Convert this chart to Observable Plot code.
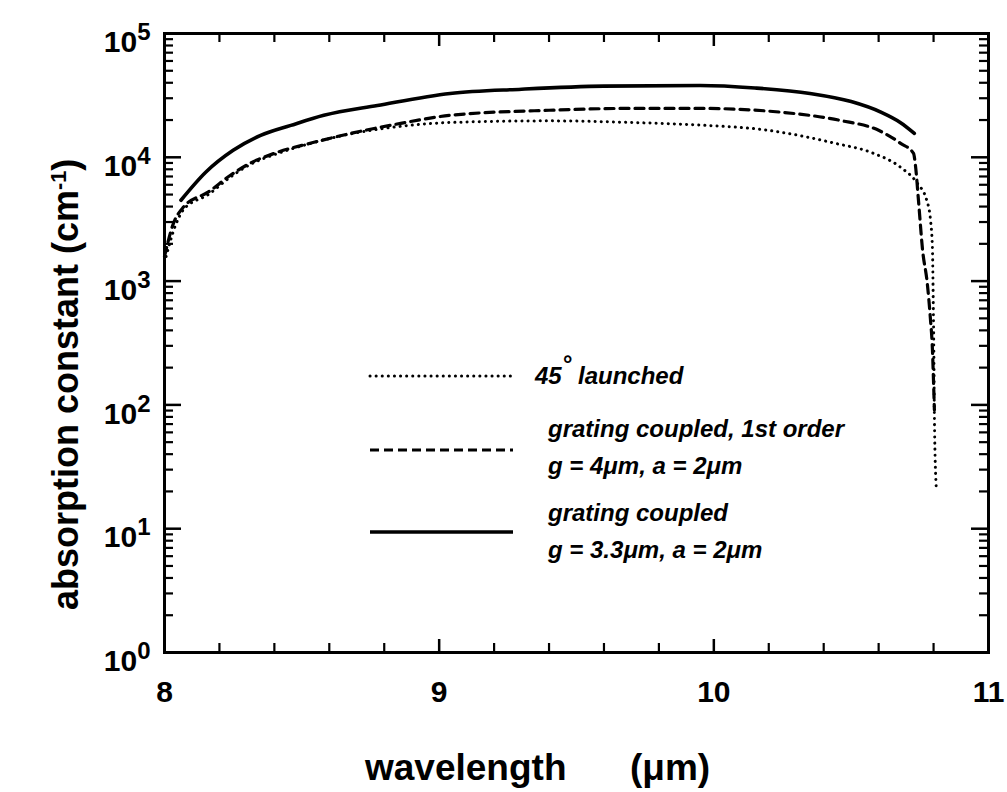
<!DOCTYPE html>
<html><head><meta charset="utf-8">
<script src="https://cdn.jsdelivr.net/npm/d3@7"></script>
<script src="https://cdn.jsdelivr.net/npm/@observablehq/plot@0.6"></script>
<style>body{margin:0;background:#fff} #chart{width:1007px;height:792px}</style>
</head><body><div id="chart"></div>
<script>
// ---- data ----
const seriesNames = ["45° launched", "grating coupled, 1st order", "grating coupled"];

const launchedX = [8.00, 8.04, 8.07, 8.16, 8.24, 8.31, 8.41, 8.53, 8.68, 8.86, 9.04, 9.4, 9.7, 9.95, 10.2, 10.44, 10.58, 10.68, 10.74, 10.775, 10.789, 10.796, 10.799, 10.801, 10.803, 10.81];
const launchedY = [1410, 2820, 3800, 5010, 6920, 8710, 10700, 12900, 15500, 17800, 19100, 19700, 19100, 18200, 16500, 13000, 10800, 8300, 6200, 4500, 3090, 1780, 630, 275, 79, 21];

const order1X = [8.00, 8.03, 8.07, 8.16, 8.24, 8.31, 8.41, 8.53, 8.68, 8.86, 9.04, 9.4, 9.7, 9.95, 10.25, 10.46, 10.6, 10.68, 10.727, 10.734, 10.745, 10.76, 10.777, 10.788, 10.796, 10.80, 10.803];
const order1Y = [1580, 2820, 3980, 5250, 7160, 8910, 10960, 12970, 15630, 18790, 21830, 23990, 24830, 24830, 23070, 19860, 16520, 12970, 10770, 8610, 4500, 1780, 964, 513, 275, 151, 91];

const coupledX = [8.06, 8.15, 8.25, 8.35, 8.46, 8.58, 8.775, 9.04, 9.3, 9.6, 9.95, 10.15, 10.35, 10.5, 10.61, 10.68, 10.73];
const coupledY = [4500, 7570, 11380, 15030, 18110, 21830, 26240, 32810, 35480, 37580, 38020, 36310, 32810, 28180, 23070, 19050, 15630];

const xMajorTicks = [8, 9, 10, 11];
const xMinorTicks = [8.2, 8.4, 8.6, 8.8, 9.2, 9.4, 9.6, 9.8, 10.2, 10.4, 10.6, 10.8];
const yMajorTicks = [1, 10, 100, 1000, 10000, 100000];
const yMinorMultipliers = [2, 3, 4, 5, 6, 7, 8, 9];

const xLabel = "wavelength";
const xUnit = "(μm)";
const yLabel = "absorption constant (cm";

// ---- build tables ----
const toRows = (xs, ys, name) => xs.map((x, i) => ({x, y: ys[i], series: name}));
const launched = toRows(launchedX, launchedY, seriesNames[0]);
const order1 = toRows(order1X, order1Y, seriesNames[1]);
const coupled = toRows(coupledX, coupledY, seriesNames[2]);
const yMinorTicks = yMajorTicks.slice(0, -1).flatMap(d => yMinorMultipliers.map(m => m * d));

const FONT = "'Liberation Sans', Arial, Helvetica, sans-serif";
const W = 1007, H = 792, ML = 164, MR = 19, MT = 33, MB = 140;
const FW = W - ML - MR, FH = H - MT - MB;   // frame size in px

// inward tick helpers (rules inset so that only `len` px remain at one edge)
const yTicksAt = (ticks, side, len, sw) => Plot.ruleY(ticks, {y: d => d, stroke: "black", strokeWidth: sw,
  ...(side === "left" ? {insetRight: FW - len} : {insetLeft: FW - len})});
const xTicksAt = (ticks, side, len, sw) => Plot.ruleX(ticks, {x: d => d, stroke: "black", strokeWidth: sw,
  ...(side === "bottom" ? {insetTop: FH - len} : {insetBottom: FH - len})});

const plot = Plot.plot({
  width: W, height: H,
  marginLeft: ML, marginRight: MR, marginTop: MT, marginBottom: MB,
  x: {domain: [8, 11], axis: null},
  y: {type: "log", domain: [1, 1e5], axis: null},
  style: {fontFamily: FONT, background: "white", color: "black"},
  marks: [
    // inward ticks on all four sides
    xTicksAt(xMajorTicks, "bottom", 13, 2.5),
    xTicksAt(xMinorTicks, "bottom", 9, 2.2),
    xTicksAt(xMajorTicks, "top", 13, 2.5),
    xTicksAt(xMinorTicks, "top", 9, 2.2),
    yTicksAt(yMajorTicks, "left", 17, 2.5),
    yTicksAt(yMinorTicks, "left", 9, 2.2),
    yTicksAt(yMajorTicks, "right", 17, 2.5),
    yTicksAt(yMinorTicks, "right", 9, 2.2),
    // tick labels
    Plot.text(xMajorTicks, {x: d => d, frameAnchor: "bottom", dy: 40, text: d => String(d),
      fontSize: 30, fontWeight: "bold", fill: "black", textAnchor: "middle", lineAnchor: "middle"}),
    Plot.text(yMajorTicks, {y: d => d, frameAnchor: "left", dx: -14, dy: 9, text: d => "10^" + Math.round(Math.log10(d)),
      fontSize: 30, fontWeight: "bold", fill: "black", textAnchor: "end", lineAnchor: "middle"}),
    // curves
    Plot.line(launched, {x: "x", y: "y", stroke: "black", strokeWidth: 3, strokeDasharray: "0.1,6", strokeLinecap: "round", curve: "monotone-x"}),
    Plot.line(order1, {x: "x", y: "y", stroke: "black", strokeWidth: 3.2, strokeDasharray: "9,6", curve: "monotone-x"}),
    Plot.line(coupled, {x: "x", y: "y", stroke: "black", strokeWidth: 3.6, curve: "monotone-x"}),
    Plot.frame({stroke: "black", strokeWidth: 3})
  ]
});

document.getElementById("chart").appendChild(plot);
const svg = d3.select(plot);

// superscript exponents on y tick labels ("10^k" -> 10 with raised k)
svg.selectAll("text").each(function() {
  const t = d3.select(this);
  const m = /^10\^(\d+)$/.exec(t.text());
  if (!m) return;
  t.text("");
  t.append("tspan").text("10");
  t.append("tspan").attr("dy", "-0.5em").attr("font-size", "0.8em").text(m[1]);
});

// axis titles
const xt = svg.append("g").attr("font-family", FONT).attr("font-size", 37).attr("font-weight", "bold")
  .attr("fill", "black").attr("text-anchor", "start");
xt.append("text").attr("x", 365).attr("y", 780).text(xLabel);
xt.append("text").attr("x", 630).attr("y", 780).text(xUnit);

const yt = svg.append("text")
  .attr("transform", "translate(78,610) rotate(-90)")
  .attr("text-anchor", "start")
  .attr("font-family", FONT).attr("font-size", 36).attr("font-weight", "bold").attr("fill", "black");
yt.append("tspan").text(yLabel);
yt.append("tspan").attr("dy", "-0.55em").attr("font-size", "0.6em").text("-1");
yt.append("tspan").attr("dy", "0.33em").text(")");

// legend
const leg = svg.append("g").attr("font-family", FONT).attr("font-style", "italic").attr("font-weight", "bold")
  .attr("font-size", 24).attr("fill", "black").attr("text-anchor", "start");
const legendStyles = [
  {dash: "0.1,6", w: 3, cap: "round", y: 376},
  {dash: "9,5", w: 3.2, cap: "butt", y: 450},
  {dash: null, w: 3.6, cap: "butt", y: 532}
];
legendStyles.forEach(s => {
  leg.append("line").attr("x1", 370).attr("x2", 513).attr("y1", s.y).attr("y2", s.y)
    .attr("stroke", "black").attr("stroke-width", s.w).attr("stroke-linecap", s.cap)
    .attr("stroke-dasharray", s.dash);
});
const t1 = leg.append("text").attr("x", 535).attr("y", 384);
t1.append("tspan").text("45");
t1.append("tspan").attr("dy", "-0.5em").text("°");
t1.append("tspan").attr("dy", "0.5em").text(" launched");
const legendLines = [
  [seriesNames[1], 437],
  ["g = 4μm, a = 2μm", 474],
  [seriesNames[2], 521],
  ["g = 3.3μm, a = 2μm", 558]
];
legendLines.forEach(([s, y]) => leg.append("text").attr("x", 548).attr("y", y).text(s));
</script>
</body></html>
